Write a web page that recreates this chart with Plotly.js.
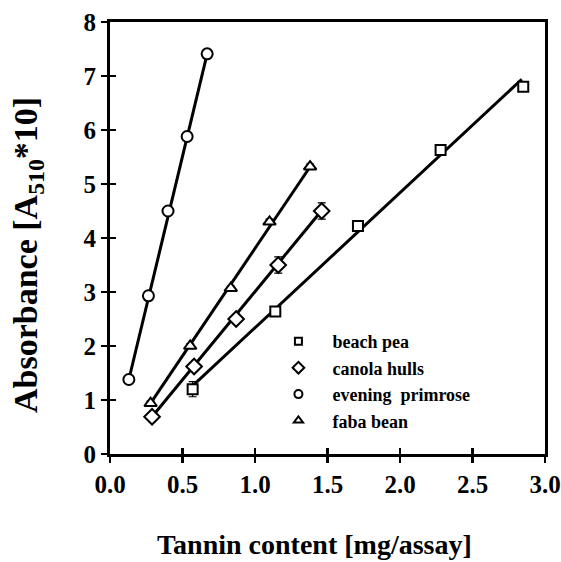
<!DOCTYPE html>
<html>
<head>
<meta charset="utf-8">
<script src="https://cdn.plot.ly/plotly-3.0.1.min.js"></script>
<style>html,body{margin:0;padding:0;background:#fff;}#chart{width:561px;height:562px;}</style>
</head>
<body>
<div id="chart"></div>
<script>
// Series names
const seriesNames = ["beach pea", "canola hulls", "evening  primrose", "faba bean"];

// Measured points (tannin content mg/assay, absorbance A510*10)
const beachX = [0.57, 1.14, 1.71, 2.28, 2.85];
const beachY = [1.20, 2.64, 4.22, 5.63, 6.80];
const beachErr = [0.14, 0.05, 0.04, 0.04, 0.08];

const canolaX = [0.29, 0.58, 0.87, 1.16, 1.46];
const canolaY = [0.69, 1.62, 2.50, 3.50, 4.50];
const canolaErr = [0.04, 0.04, 0.05, 0.15, 0.15];

const primroseX = [0.13, 0.265, 0.40, 0.532, 0.67];
const primroseY = [1.38, 2.93, 4.50, 5.88, 7.41];
const primroseErr = [0.03, 0.03, 0.04, 0.05, 0.05];

const fabaX = [0.28, 0.553, 0.833, 1.10, 1.38];
const fabaY = [0.94, 2.00, 3.07, 4.30, 5.32];
const fabaErr = [0.04, 0.04, 0.04, 0.05, 0.05];

// Regression line end points as drawn in the figure
const beachFitX = [0.573, 2.84];
const beachFitY = [1.27, 6.94];
const canolaFitX = [0.29, 1.457];
const canolaFitY = [0.69, 4.50];
const primroseFitX = [0.13, 0.67];
const primroseFitY = [1.38, 7.41];
const fabaFitX = [0.27, 1.38];
const fabaFitY = [0.90, 5.32];

// Axis ticks and titles
const xTicks = [0, 0.5, 1.0, 1.5, 2.0, 2.5, 3.0];
const xTickText = ["0.0", "0.5", "1.0", "1.5", "2.0", "2.5", "3.0"];
const yTicks = [0, 1, 2, 3, 4, 5, 6, 7, 8];
const xTitle = "Tannin content [mg/assay]";
const yTitle = "Absorbance [A<sub>510</sub>*10]";

const FONT = "'Liberation Serif', 'Times New Roman', serif";
const symbols = ["square", "diamond", "circle", "triangle-up"];

function fitLine(x, y) {
  return {x: x, y: y, mode: "lines", type: "scatter", showlegend: false, hoverinfo: "skip",
          line: {color: "#000", width: 3}};
}
function pts(x, y, err, symbol, size) {
  return {x: x, y: y, mode: "markers", type: "scatter", showlegend: false,
          error_y: {type: "data", array: err, visible: true, color: "#000", thickness: 1.2, width: 4},
          marker: {symbol: symbol, size: size, color: "#fff", line: {color: "#000", width: 2}}};
}
function legendEntry(name, symbol, size) {
  return {x: [null], y: [null], mode: "markers", type: "scatter", name: name, showlegend: true,
          marker: {symbol: symbol, size: size, color: "#fff", line: {color: "#000", width: 2}}};
}

const data = [
  fitLine(beachFitX, beachFitY),
  fitLine(canolaFitX, canolaFitY),
  fitLine(primroseFitX, primroseFitY),
  fitLine(fabaFitX, fabaFitY),
  pts(beachX, beachY, beachErr, symbols[0], 10),
  pts(canolaX, canolaY, canolaErr, symbols[1], 12),
  pts(primroseX, primroseY, primroseErr, symbols[2], 11),
  pts(fabaX, fabaY, fabaErr, symbols[3], 11),
  legendEntry(seriesNames[0], symbols[0], 7),
  legendEntry(seriesNames[1], symbols[1], 9),
  legendEntry(seriesNames[2], symbols[2], 8),
  legendEntry(seriesNames[3], symbols[3], 8),
  // invisible trace so the overlay axes (inner tick halves) are drawn
  {x: [0], y: [0], xaxis: "x2", yaxis: "y2", mode: "markers", showlegend: false,
   marker: {opacity: 0}, hoverinfo: "skip"}
];

const layout = {
  width: 561, height: 562,
  margin: {l: 110, r: 16, t: 22, b: 108},
  paper_bgcolor: "#fff", plot_bgcolor: "#fff",
  showlegend: true,
  font: {family: FONT, color: "#000"},
  xaxis: {
    range: [0, 3], tickvals: xTicks, ticktext: xTickText,
    ticks: "outside", ticklen: 6, tickwidth: 2.5, tickcolor: "#000",
    showline: true, linewidth: 3, linecolor: "#000", mirror: true,
    showgrid: false, zeroline: false,
    tickfont: {family: FONT, size: 25, weight: "bold", color: "#000"}
  },
  yaxis: {
    range: [0, 8], tickvals: yTicks,
    ticks: "outside", ticklen: 6, tickwidth: 2.5, tickcolor: "#000",
    showline: true, linewidth: 3, linecolor: "#000", mirror: true,
    showgrid: false, zeroline: false,
    tickfont: {family: FONT, size: 25, weight: "bold", color: "#000"}
  },
  xaxis2: {overlaying: "x", range: [0, 3], tickvals: xTicks, showticklabels: false,
           ticks: "inside", ticklen: 6, tickwidth: 2.5, tickcolor: "#000",
           showline: false, showgrid: false, zeroline: false, anchor: "y"},
  yaxis2: {overlaying: "y", range: [0, 8], tickvals: yTicks, showticklabels: false,
           ticks: "inside", ticklen: 6, tickwidth: 2.5, tickcolor: "#000",
           showline: false, showgrid: false, zeroline: false, anchor: "x"},
  annotations: [
    {text: xTitle, xref: "paper", yref: "paper", x: (314 - 110) / 435, y: -(544 - 454) / 432,
     xanchor: "center", yanchor: "middle", showarrow: false,
     font: {family: FONT, size: 28, weight: "bold", color: "#000"}},
    {text: yTitle, xref: "paper", yref: "paper", x: (28 - 110) / 435, y: (454 - 255) / 432,
     xanchor: "center", yanchor: "middle", showarrow: false, textangle: -90,
     font: {family: FONT, size: 34, weight: "bold", color: "#000"}}
  ],
  legend: {x: 0.355, y: 0.303, xanchor: "left", yanchor: "top", bgcolor: "rgba(0,0,0,0)",
           font: {family: FONT, size: 18, weight: "bold", color: "#000"},
           itemsizing: "trace", itemwidth: 58, tracegroupgap: 0}
};

Plotly.newPlot("chart", data, layout, {displayModeBar: false, staticPlot: true});
</script>
</body>
</html>
